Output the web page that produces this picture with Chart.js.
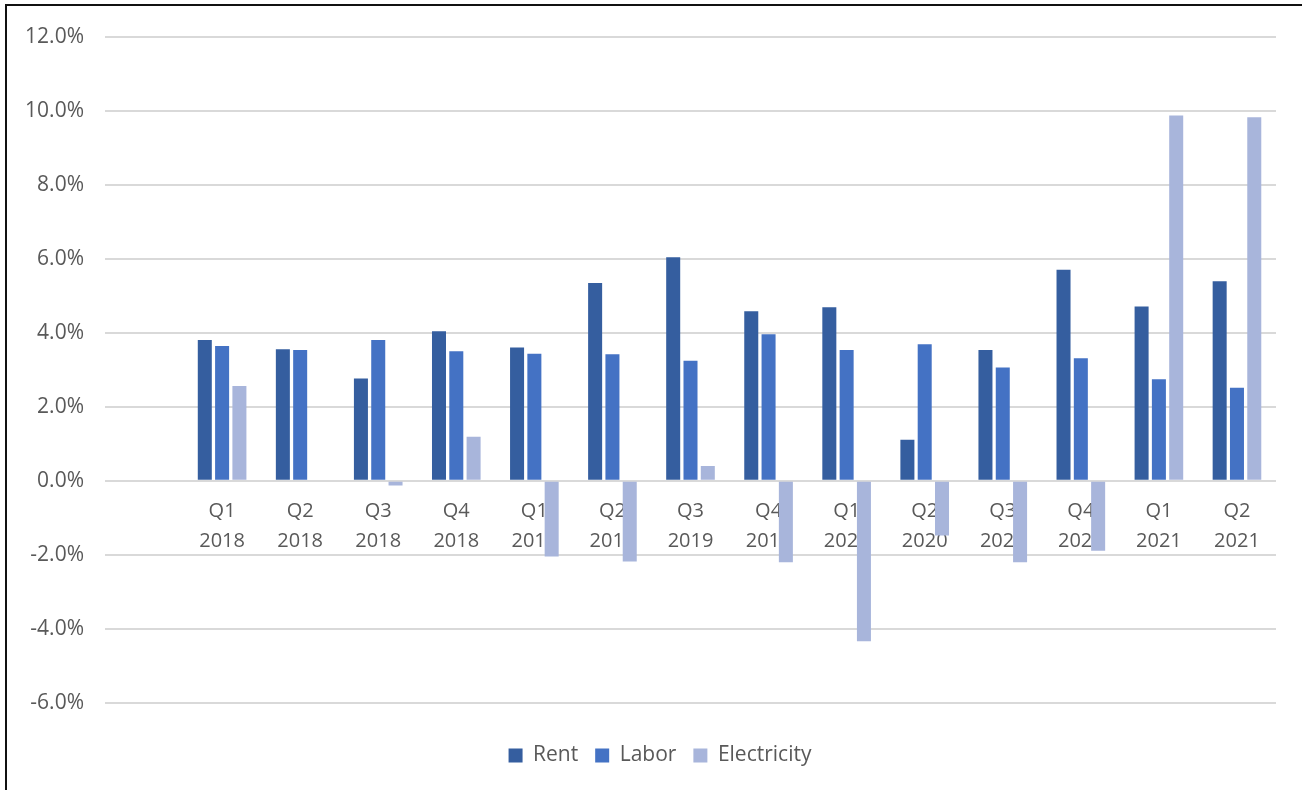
<!DOCTYPE html>
<html lang="en">

<head>
    <meta charset="UTF-8">
    <title>Rent, Labor and Electricity by Quarter</title>
    <script src="https://cdn.jsdelivr.net/npm/chart.js"></script>
    <style>
        body { margin: 0; background: #fff; }
        #frame {
            position: absolute;
            left: 5px; top: 4px;
            width: 1297px; height: 786px;
            border-left: 2px solid #111;
            border-top: 2px solid #111;
        }
        #wrap { position: absolute; left: 0; top: 3px; width: 1302px; height: 787px; }
    </style>
</head>

<body>
    <div id="frame"></div>
    <div id="wrap"><canvas id="myChart"></canvas></div>

    <script>
        // first category is blank in the source sheet
        const categories = ['', ['Q1', '2018'], ['Q2', '2018'], ['Q3', '2018'], ['Q4', '2018'],
            ['Q1', '2019'], ['Q2', '2019'], ['Q3', '2019'], ['Q4', '2019'],
            ['Q1', '2020'], ['Q2', '2020'], ['Q3', '2020'], ['Q4', '2020'],
            ['Q1', '2021'], ['Q2', '2021']];

        const rent = [null, 3.80, 3.55, 2.76, 4.04, 3.60, 5.34, 6.04, 4.58, 4.69, 1.11, 3.53, 5.70, 4.71, 5.39];
        const labor = [null, 3.64, 3.53, 3.80, 3.50, 3.43, 3.42, 3.24, 3.96, 3.53, 3.69, 3.06, 3.31, 2.74, 2.51];
        const electricity = [null, 2.56, 0, -0.13, 1.19, -2.05, -2.18, 0.40, -2.20, -4.34, -1.48, -2.20, -1.89, 9.87, 9.82];

        const font = '"Open Sans", sans-serif';
        const grey = '#595959';

        // legend is centred a bit right of the canvas centre in the original
        const legendShift = {
            id: 'legendShift',
            afterLayout: function (chart) {
                chart.legend.left += 22;
                chart.legend.right += 22;
            }
        };

        const ctx = document.getElementById('myChart').getContext('2d');
        const chart = new Chart(ctx, {
            type: 'bar',
            data: {
                labels: categories,
                datasets: [{
                    label: 'Rent',
                    data: rent,
                    backgroundColor: '#355E9F'
                },
                {
                    label: 'Labor',
                    data: labor,
                    backgroundColor: '#4472C4'
                },
                {
                    label: 'Electricity',
                    data: electricity,
                    backgroundColor: '#A8B5DB'
                }
                ]
            },
            plugins: [legendShift],
            options: {
                responsive: true,
                maintainAspectRatio: false,
                animation: false,
                datasets: {
                    bar: {
                        categoryPercentage: 0.665,
                        barPercentage: 0.81
                    }
                },
                layout: {
                    padding: { top: 26, right: 26, bottom: 14, left: 0 }
                },
                plugins: {
                    tooltip: { enabled: false },
                    legend: {
                        position: 'bottom',
                        // blank title only adds room between plot and legend
                        title: { display: true, text: ' ', font: { size: 1 }, padding: { top: 0, bottom: 24 } },
                        labels: {
                            color: grey,
                            font: { family: font, size: 21 },
                            boxWidth: 14,
                            boxHeight: 14,
                            padding: 17
                        }
                    }
                },
                scales: {
                    x: {
                        position: { y: 0 },
                        grid: { display: false },
                        border: { display: false },
                        ticks: {
                            color: grey,
                            font: { family: font, size: 20, lineHeight: 1.5 },
                            padding: 8,
                            maxRotation: 0,
                            autoSkip: false
                        }
                    },
                    y: {
                        min: -6,
                        max: 12,
                        grid: { color: '#D9D9D9', lineWidth: 2, drawTicks: false },
                        border: { display: false },
                        afterFit: function (scale) { scale.width = 105; },
                        ticks: {
                            stepSize: 2,
                            color: grey,
                            padding: 21,
                            font: { family: font, size: 21 },
                            callback: function (v) { return v.toFixed(1) + '%'; }
                        }
                    }
                }
            }
        });
    </script>
</body>

</html>
